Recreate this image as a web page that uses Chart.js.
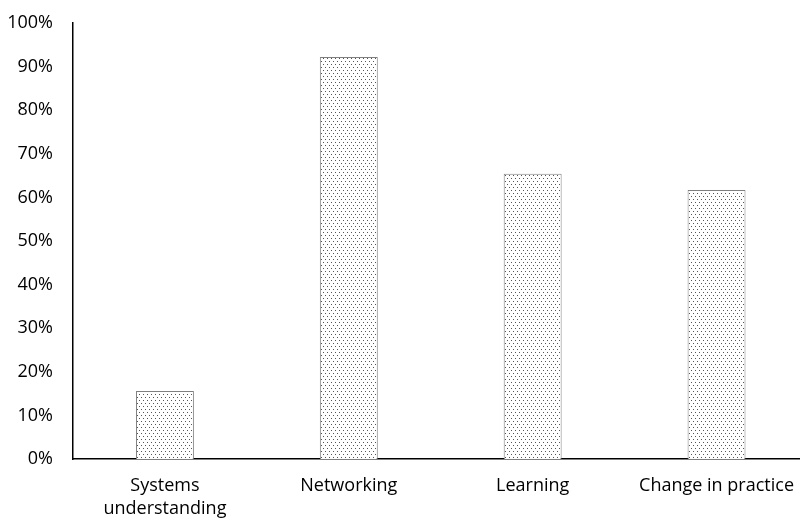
<!DOCTYPE html>
<html>
<head>
<meta charset="utf-8">
<script src="https://cdn.jsdelivr.net/npm/chart.js@4"></script>
<style>
  html, body { margin: 0; padding: 0; background: #fff; overflow: hidden; }
  #wrap { width: 800px; height: 520px; overflow: hidden; }
</style>
</head>
<body>
<div id="wrap"><canvas id="myChart" width="809" height="520"></canvas></div>
<script>
// chart data
var categories = [["Systems", "understanding"], "Networking", "Learning", "Change in practice"];
var shares = [15.6, 92.2, 65.4, 61.7];
var yTicks = [0, 10, 20, 30, 40, 50, 60, 70, 80, 90, 100];

// dotted fill like the original (staggered dots)
function dotPattern() {
  var c = document.createElement('canvas');
  c.width = 4; c.height = 6;
  var g = c.getContext('2d');
  g.fillStyle = '#fff';
  g.fillRect(0, 0, 4, 6);
  g.fillStyle = '#555';
  g.fillRect(1, 1, 1, 1);
  g.fillRect(3, 4, 1, 1);
  return g.createPattern(c, 'repeat');
}

var ctx = document.getElementById('myChart').getContext('2d');
var chart = new Chart(ctx, {
  type: 'bar',
  data: {
    labels: categories,
    datasets: [{
      data: shares,
      backgroundColor: dotPattern(),
      borderColor: '#7f7f7f',
      borderWidth: 1,
      borderSkipped: 'bottom',
      categoryPercentage: 1,
      barPercentage: 0.315
    }]
  },
  options: {
    responsive: false,
    animation: false,
    layout: { padding: { top: 23, right: 0, left: 0, bottom: 0 } },
    plugins: { legend: { display: false }, tooltip: { enabled: false } },
    scales: {
      x: {
        afterFit: function(axis) { axis.height = 61; },
        grid: { display: false, drawTicks: false },
        border: { display: true, color: '#000', width: 1.5 },
        ticks: {
          color: '#000',
          padding: 15,
          font: { family: 'Open Sans', size: 18, lineHeight: 1.3 },
          maxRotation: 0
        }
      },
      y: {
        min: 0,
        max: 100,
        afterBuildTicks: function(axis) {
          axis.ticks = yTicks.map(function(v) { return { value: v }; });
        },
        afterFit: function(axis) {
          axis.width = 73;
          axis.paddingTop = 0;
          axis.paddingBottom = 0;
        },
        grid: { display: false, drawTicks: false },
        border: { display: true, color: '#000', width: 1.5 },
        ticks: {
          color: '#000',
          padding: 20,
          font: { family: 'Open Sans', size: 18 },
          callback: function(v) { return v + '%'; }
        }
      }
    }
  }
});
</script>
</body>
</html>
